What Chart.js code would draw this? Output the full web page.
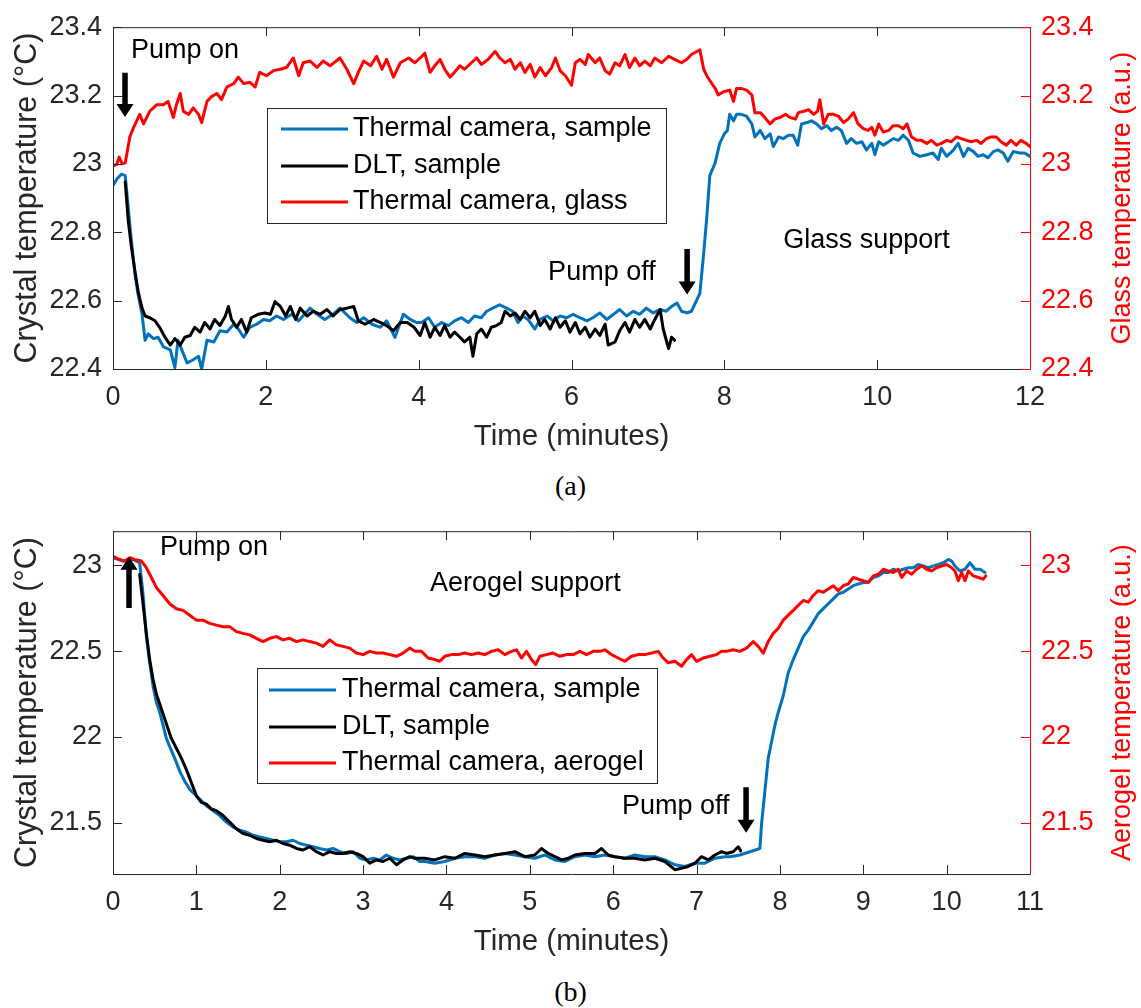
<!DOCTYPE html>
<html>
<head>
<meta charset="utf-8">
<title>Crystal temperature during pumping</title>
<script src="https://cdn.jsdelivr.net/npm/chart.js@4.4.0/dist/chart.umd.min.js"></script>
<style>
  body { margin: 0; background: #fff; }
  #fig { position: relative; width: 1141px; height: 1008px; }
  #fig canvas { position: absolute; left: 0; }
  .cap { position: absolute; left: 0; width: 1141px; text-align: center;
         font-family: "Liberation Serif", "Times New Roman", serif; font-size: 28px; line-height: 32px; color: #000; }
</style>
</head>
<body>
<div id="fig">
  <canvas id="chartA" width="1141" height="460" style="top:0px"></canvas>
  <div class="cap" style="top:470px">(a)</div>
  <canvas id="chartB" width="1141" height="461" style="top:504px"></canvas>
  <div class="cap" style="top:976px">(b)</div>
</div>
<script>
var BLUE = '#0072BD';
var RED = '#FF0000';
var BLACK = '#000000';
var AXIS = '#262626';
var FONT = '"Liberation Sans", Arial, Helvetica, sans-serif';

// ---- panel (a): glass support ----
var timeTicksA = [0, 2, 4, 6, 8, 10, 12];
var tempTicksA = [22.4, 22.6, 22.8, 23, 23.2, 23.4];

// [minutes, degC]
var cameraSampleA = [
  [0,22.937],[0.05,22.956],[0.11,22.970],[0.16,22.966],[0.20,22.871],[0.24,22.777],[0.29,22.673],[0.33,22.616],
  [0.38,22.560],[0.42,22.484],[0.46,22.503],[0.53,22.489],[0.59,22.493],[0.66,22.465],[0.75,22.456],[0.81,22.404],
  [0.85,22.484],[0.90,22.456],[0.97,22.418],[1.05,22.427],[1.12,22.437],[1.16,22.400],[1.23,22.484],[1.32,22.479],
  [1.40,22.512],[1.49,22.508],[1.58,22.531],[1.64,22.517],[1.71,22.493],[1.79,22.522],[1.88,22.531],[1.97,22.545],
  [2.05,22.541],[2.14,22.555],[2.23,22.545],[2.34,22.560],[2.43,22.541],[2.52,22.564],[2.58,22.578],[2.67,22.560],
  [2.77,22.545],[2.88,22.560],[2.97,22.578],[3.10,22.550],[3.19,22.536],[3.28,22.550],[3.39,22.531],[3.50,22.522],
  [3.58,22.541],[3.69,22.493],[3.80,22.560],[3.89,22.545],[3.97,22.536],[4.04,22.536],[4.13,22.550],[4.21,22.522],
  [4.30,22.536],[4.39,22.527],[4.47,22.541],[4.56,22.550],[4.65,22.536],[4.73,22.555],[4.82,22.550],[4.89,22.569],
  [4.97,22.578],[5.06,22.588],[5.15,22.578],[5.23,22.569],[5.30,22.536],[5.36,22.555],[5.43,22.545],[5.52,22.517],
  [5.59,22.545],[5.68,22.555],[5.76,22.541],[5.85,22.555],[5.94,22.550],[6.02,22.560],[6.11,22.550],[6.20,22.541],
  [6.28,22.550],[6.37,22.564],[6.46,22.545],[6.55,22.560],[6.63,22.574],[6.72,22.555],[6.81,22.569],[6.89,22.560],
  [6.98,22.578],[7.07,22.564],[7.16,22.574],[7.24,22.569],[7.31,22.583],[7.38,22.593],[7.44,22.569],[7.51,22.564],
  [7.57,22.569],[7.64,22.602],[7.68,22.621],[7.73,22.739],[7.77,22.843],[7.81,22.966],[7.88,23.003],[7.94,23.060],
  [8.00,23.088],[8.04,23.098],[8.07,23.145],[8.12,23.126],[8.16,23.145],[8.22,23.145],[8.29,23.140],[8.36,23.117],
  [8.40,23.079],[8.47,23.098],[8.53,23.074],[8.60,23.088],[8.64,23.051],[8.71,23.079],[8.77,23.074],[8.84,23.084],
  [8.90,23.084],[8.96,23.055],[9.01,23.117],[9.08,23.121],[9.14,23.126],[9.21,23.117],[9.27,23.103],[9.34,23.112],
  [9.40,23.098],[9.47,23.107],[9.53,23.098],[9.60,23.060],[9.66,23.074],[9.73,23.060],[9.80,23.065],[9.86,23.041],
  [9.93,23.060],[9.97,23.027],[10.02,23.065],[10.08,23.055],[10.15,23.065],[10.21,23.074],[10.28,23.069],[10.34,23.084],
  [10.41,23.069],[10.47,23.032],[10.56,23.022],[10.65,23.027],[10.73,23.032],[10.80,23.013],[10.84,23.046],[10.91,23.022],
  [11.00,23.041],[11.06,23.060],[11.13,23.022],[11.19,23.046],[11.26,23.036],[11.32,23.022],[11.39,23.027],[11.45,23.018],
  [11.52,23.036],[11.58,23.041],[11.65,23.032],[11.71,23.008],[11.78,23.036],[11.87,23.032],[11.93,23.032],[12.00,23.022]
];

var dltSampleA = [
  [0.16,22.947],[0.20,22.833],[0.24,22.758],[0.29,22.682],[0.33,22.626],[0.38,22.578],[0.42,22.555],[0.48,22.550],
  [0.55,22.541],[0.61,22.522],[0.68,22.493],[0.75,22.470],[0.81,22.489],[0.88,22.470],[0.94,22.493],[1.01,22.498],
  [1.07,22.522],[1.14,22.508],[1.20,22.536],[1.27,22.517],[1.33,22.545],[1.40,22.527],[1.47,22.555],[1.51,22.583],
  [1.55,22.545],[1.62,22.522],[1.68,22.545],[1.75,22.508],[1.81,22.550],[1.90,22.560],[1.99,22.564],[2.06,22.560],
  [2.12,22.597],[2.19,22.583],[2.26,22.555],[2.32,22.583],[2.39,22.545],[2.45,22.578],[2.54,22.555],[2.62,22.569],
  [2.71,22.560],[2.80,22.574],[2.88,22.555],[2.97,22.574],[3.06,22.578],[3.15,22.583],[3.21,22.541],[3.30,22.531],
  [3.41,22.545],[3.50,22.536],[3.58,22.527],[3.67,22.512],[3.76,22.536],[3.85,22.536],[3.94,22.522],[4.02,22.498],
  [4.08,22.536],[4.15,22.493],[4.21,22.522],[4.28,22.498],[4.34,22.527],[4.41,22.493],[4.47,22.508],[4.54,22.493],
  [4.60,22.479],[4.67,22.493],[4.71,22.437],[4.76,22.503],[4.82,22.517],[4.89,22.493],[4.95,22.522],[5.02,22.527],
  [5.08,22.536],[5.13,22.569],[5.20,22.555],[5.26,22.564],[5.33,22.545],[5.39,22.569],[5.46,22.550],[5.52,22.569],
  [5.59,22.527],[5.65,22.545],[5.72,22.517],[5.79,22.550],[5.85,22.522],[5.92,22.541],[5.98,22.508],[6.05,22.536],
  [6.11,22.503],[6.18,22.522],[6.24,22.493],[6.31,22.517],[6.37,22.498],[6.44,22.531],[6.48,22.470],[6.57,22.479],
  [6.63,22.512],[6.70,22.536],[6.76,22.508],[6.83,22.545],[6.89,22.522],[6.96,22.545],[7.03,22.517],[7.09,22.545],
  [7.16,22.574],[7.20,22.517],[7.27,22.460],[7.31,22.493],[7.35,22.484]
];

var cameraGlassA = [
  [0,22.994],[0.05,22.999],[0.08,23.020],[0.12,23.000],[0.16,23.003],[0.22,23.079],[0.27,23.107],[0.35,23.145],
  [0.40,23.117],[0.48,23.154],[0.57,23.173],[0.66,23.173],[0.72,23.183],[0.79,23.136],[0.83,23.173],[0.88,23.206],
  [0.92,23.154],[0.99,23.145],[1.05,23.164],[1.12,23.145],[1.16,23.121],[1.23,23.183],[1.29,23.197],[1.36,23.206],
  [1.42,23.188],[1.49,23.225],[1.58,23.235],[1.64,23.254],[1.71,23.235],[1.79,23.239],[1.86,23.225],[1.92,23.268],
  [2.01,23.258],[2.10,23.273],[2.19,23.277],[2.27,23.282],[2.36,23.310],[2.43,23.258],[2.49,23.296],[2.58,23.301],
  [2.67,23.282],[2.75,23.301],[2.84,23.287],[2.97,23.310],[3.06,23.277],[3.15,23.235],[3.21,23.268],[3.28,23.301],
  [3.37,23.287],[3.45,23.315],[3.52,23.277],[3.58,23.306],[3.67,23.254],[3.76,23.296],[3.87,23.310],[3.95,23.296],
  [4.02,23.310],[4.08,23.324],[4.15,23.268],[4.21,23.287],[4.28,23.306],[4.34,23.277],[4.41,23.254],[4.47,23.268],
  [4.54,23.287],[4.60,23.277],[4.69,23.296],[4.76,23.310],[4.82,23.291],[4.91,23.306],[5.00,23.329],[5.06,23.310],
  [5.13,23.296],[5.20,23.306],[5.26,23.277],[5.33,23.296],[5.39,23.268],[5.46,23.291],[5.52,23.254],[5.59,23.282],
  [5.66,23.258],[5.74,23.282],[5.79,23.310],[5.85,23.273],[5.92,23.258],[6.00,23.230],[6.05,23.296],[6.11,23.306],
  [6.18,23.291],[6.22,23.320],[6.31,23.296],[6.37,23.310],[6.44,23.273],[6.50,23.263],[6.57,23.296],[6.63,23.287],
  [6.70,23.320],[6.76,23.282],[6.83,23.310],[6.89,23.287],[6.96,23.301],[7.03,23.287],[7.09,23.310],[7.18,23.296],
  [7.27,23.315],[7.35,23.306],[7.44,23.296],[7.51,23.306],[7.57,23.320],[7.64,23.329],[7.68,23.334],[7.73,23.277],
  [7.77,23.258],[7.81,23.244],[7.88,23.221],[7.92,23.202],[7.99,23.211],[8.07,23.216],[8.12,23.183],[8.16,23.221],
  [8.22,23.221],[8.29,23.216],[8.36,23.202],[8.40,23.150],[8.47,23.150],[8.53,23.136],[8.60,23.117],[8.66,23.131],
  [8.73,23.136],[8.80,23.145],[8.86,23.136],[8.93,23.131],[8.97,23.150],[9.04,23.154],[9.10,23.159],[9.17,23.145],
  [9.22,23.154],[9.25,23.188],[9.30,23.117],[9.36,23.145],[9.43,23.145],[9.49,23.140],[9.56,23.121],[9.62,23.131],
  [9.69,23.150],[9.75,23.117],[9.82,23.103],[9.88,23.098],[9.93,23.107],[9.97,23.084],[10.02,23.117],[10.08,23.093],
  [10.15,23.098],[10.21,23.112],[10.28,23.112],[10.34,23.103],[10.39,23.117],[10.45,23.079],[10.52,23.069],[10.58,23.069],
  [10.65,23.060],[10.71,23.069],[10.78,23.055],[10.84,23.060],[10.91,23.069],[10.97,23.065],[11.04,23.079],[11.10,23.074],
  [11.17,23.069],[11.23,23.065],[11.30,23.069],[11.36,23.060],[11.43,23.074],[11.49,23.079],[11.56,23.079],[11.62,23.065],
  [11.69,23.055],[11.75,23.069],[11.82,23.055],[11.88,23.069],[11.95,23.060],[12.00,23.051]
];

// ---- panel (b): aerogel support ----
var timeTicksB = [0, 1, 2, 3, 4, 5, 6, 7, 8, 9, 10, 11];
var tempTicksB = [21.5, 22, 22.5, 23];

var cameraSampleB = [
  [0,23.045],[0.12,23.026],[0.24,23.035],[0.32,23.016],[0.36,22.834],[0.40,22.585],[0.44,22.432],[0.48,22.298],
  [0.52,22.202],[0.56,22.144],[0.60,22.068],[0.64,21.991],[0.68,21.943],[0.74,21.876],[0.80,21.800],[0.86,21.742],
  [0.92,21.694],[0.98,21.665],[1.04,21.637],[1.12,21.598],[1.20,21.570],[1.28,21.541],[1.36,21.503],[1.44,21.474],
  [1.52,21.455],[1.60,21.445],[1.68,21.426],[1.76,21.416],[1.84,21.407],[1.92,21.397],[2.00,21.388],[2.08,21.388],
  [2.16,21.397],[2.24,21.378],[2.32,21.368],[2.40,21.359],[2.48,21.349],[2.56,21.340],[2.64,21.349],[2.72,21.330],
  [2.80,21.320],[2.88,21.330],[2.96,21.292],[3.04,21.282],[3.12,21.292],[3.20,21.282],[3.28,21.311],[3.36,21.292],
  [3.44,21.282],[3.52,21.292],[3.60,21.301],[3.68,21.273],[3.74,21.273],[3.86,21.263],[3.98,21.273],[4.10,21.292],
  [4.22,21.301],[4.34,21.301],[4.46,21.292],[4.58,21.311],[4.70,21.320],[4.82,21.311],[4.94,21.301],[5.06,21.292],
  [5.18,21.311],[5.30,21.282],[5.42,21.273],[5.54,21.301],[5.66,21.311],[5.78,21.301],[5.90,21.311],[6.02,21.301],
  [6.14,21.292],[6.26,21.311],[6.38,21.301],[6.50,21.301],[6.62,21.282],[6.74,21.254],[6.86,21.244],[6.98,21.263],
  [7.10,21.263],[7.22,21.292],[7.34,21.301],[7.40,21.301],[7.52,21.311],[7.64,21.330],[7.76,21.349],[7.78,21.493],
  [7.82,21.685],[7.86,21.876],[7.90,21.972],[7.94,22.068],[7.98,22.144],[8.04,22.240],[8.10,22.374],[8.16,22.451],
  [8.22,22.518],[8.28,22.585],[8.34,22.623],[8.40,22.671],[8.46,22.719],[8.52,22.748],[8.58,22.777],[8.64,22.805],
  [8.70,22.834],[8.76,22.844],[8.82,22.863],[8.88,22.882],[8.94,22.892],[9.00,22.901],[9.06,22.901],[9.12,22.930],
  [9.18,22.939],[9.24,22.959],[9.30,22.959],[9.36,22.978],[9.42,22.968],[9.48,22.978],[9.54,22.987],[9.60,22.987],
  [9.66,23.006],[9.72,22.997],[9.78,22.987],[9.84,22.997],[9.90,23.006],[9.96,23.016],[10.02,23.035],[10.06,23.026],
  [10.10,22.997],[10.16,22.968],[10.22,22.978],[10.28,23.016],[10.34,22.978],[10.40,22.978],[10.46,22.959]
];

var dltSampleB = [
  [0.32,22.949],[0.36,22.777],[0.40,22.604],[0.44,22.451],[0.48,22.336],[0.52,22.250],[0.58,22.164],[0.64,22.077],
  [0.70,21.991],[0.76,21.934],[0.82,21.876],[0.88,21.809],[0.94,21.733],[1.00,21.656],[1.06,21.618],[1.12,21.608],
  [1.18,21.579],[1.24,21.570],[1.32,21.541],[1.40,21.503],[1.48,21.464],[1.56,21.436],[1.64,21.426],[1.72,21.407],
  [1.80,21.397],[1.88,21.388],[1.96,21.397],[2.04,21.378],[2.12,21.368],[2.20,21.349],[2.28,21.340],[2.36,21.359],
  [2.44,21.330],[2.52,21.311],[2.60,21.330],[2.68,21.320],[2.76,21.320],[2.84,21.330],[2.92,21.320],[3.00,21.301],
  [3.08,21.263],[3.16,21.282],[3.24,21.273],[3.32,21.292],[3.40,21.254],[3.48,21.282],[3.56,21.301],[3.62,21.292],
  [3.74,21.292],[3.86,21.282],[3.98,21.301],[4.10,21.292],[4.22,21.320],[4.34,21.311],[4.46,21.301],[4.58,21.311],
  [4.70,21.320],[4.82,21.330],[4.94,21.301],[5.06,21.311],[5.14,21.349],[5.22,21.320],[5.30,21.301],[5.38,21.282],
  [5.46,21.292],[5.54,21.311],[5.66,21.320],[5.78,21.320],[5.86,21.349],[5.94,21.311],[6.02,21.301],[6.14,21.292],
  [6.26,21.292],[6.38,21.282],[6.50,21.292],[6.62,21.273],[6.74,21.225],[6.82,21.234],[6.90,21.244],[6.98,21.263],
  [7.06,21.301],[7.14,21.282],[7.22,21.311],[7.30,21.330],[7.36,21.320],[7.44,21.330],[7.50,21.359],[7.53,21.335]
];

var cameraAerogelB = [
  [0,23.054],[0.08,23.035],[0.14,23.026],[0.20,23.045],[0.26,23.035],[0.34,23.026],[0.40,22.987],[0.46,22.930],
  [0.52,22.872],[0.60,22.825],[0.68,22.777],[0.76,22.748],[0.84,22.738],[0.92,22.710],[1.00,22.681],[1.08,22.681],
  [1.16,22.662],[1.24,22.652],[1.32,22.643],[1.40,22.643],[1.48,22.614],[1.56,22.604],[1.64,22.595],[1.72,22.575],
  [1.80,22.556],[1.88,22.575],[1.96,22.585],[2.04,22.566],[2.12,22.575],[2.20,22.556],[2.28,22.566],[2.36,22.556],
  [2.44,22.547],[2.52,22.528],[2.60,22.566],[2.68,22.537],[2.76,22.528],[2.84,22.518],[2.92,22.489],[3.00,22.480],
  [3.08,22.499],[3.16,22.489],[3.24,22.489],[3.32,22.480],[3.40,22.470],[3.48,22.489],[3.56,22.518],[3.62,22.500],
  [3.70,22.499],[3.78,22.460],[3.86,22.451],[3.92,22.441],[3.98,22.470],[4.06,22.480],[4.14,22.480],[4.22,22.489],
  [4.30,22.480],[4.38,22.489],[4.46,22.480],[4.54,22.499],[4.62,22.508],[4.70,22.480],[4.78,22.499],[4.84,22.508],
  [4.90,22.460],[4.96,22.499],[5.02,22.451],[5.07,22.422],[5.12,22.470],[5.20,22.480],[5.28,22.489],[5.36,22.470],
  [5.44,22.480],[5.52,22.480],[5.60,22.499],[5.68,22.480],[5.76,22.499],[5.84,22.499],[5.90,22.508],[5.98,22.480],
  [6.06,22.460],[6.14,22.441],[6.22,22.470],[6.30,22.480],[6.38,22.480],[6.46,22.489],[6.54,22.499],[6.60,22.460],
  [6.66,22.432],[6.74,22.441],[6.82,22.412],[6.88,22.451],[6.94,22.480],[7.00,22.441],[7.08,22.460],[7.16,22.470],
  [7.24,22.480],[7.30,22.499],[7.36,22.499],[7.44,22.508],[7.52,22.499],[7.60,22.518],[7.68,22.556],[7.74,22.528],
  [7.80,22.489],[7.86,22.556],[7.92,22.604],[7.98,22.633],[8.04,22.681],[8.10,22.710],[8.16,22.738],[8.22,22.767],
  [8.28,22.796],[8.34,22.786],[8.40,22.825],[8.46,22.853],[8.52,22.844],[8.58,22.863],[8.64,22.882],[8.70,22.853],
  [8.76,22.882],[8.82,22.892],[8.88,22.930],[8.94,22.920],[9.00,22.911],[9.06,22.901],[9.12,22.939],[9.18,22.949],
  [9.24,22.978],[9.30,22.968],[9.36,22.959],[9.42,22.978],[9.46,22.930],[9.52,22.968],[9.58,22.949],[9.64,22.978],
  [9.70,22.997],[9.76,22.978],[9.82,22.968],[9.88,22.987],[9.94,22.997],[10.00,23.006],[10.06,22.987],[10.10,22.968],
  [10.14,22.911],[10.18,22.959],[10.22,22.911],[10.26,22.968],[10.32,22.939],[10.38,22.930],[10.44,22.920],[10.47,22.939]
];

var TICK = 9;

function toPoints(pairs) {
  return pairs.map(function (p) { return { x: p[0], y: p[1] }; });
}

function fixedTicks(values) {
  return function (scale) {
    scale.ticks = values.map(function (v) { return { value: v }; });
  };
}

function drawArrow(ctx, x, y0, y1) {
  // shaft from y0, head tip at y1
  var dir = y1 > y0 ? 1 : -1;
  var head = 13, half = 8.5, shaft = 2.75;
  ctx.beginPath();
  ctx.moveTo(x - shaft, y0);
  ctx.lineTo(x + shaft, y0);
  ctx.lineTo(x + shaft, y1 - dir * head);
  ctx.lineTo(x + half, y1 - dir * head);
  ctx.lineTo(x, y1);
  ctx.lineTo(x - half, y1 - dir * head);
  ctx.lineTo(x - shaft, y1 - dir * head);
  ctx.closePath();
  ctx.fill();
}

// axes box, inward ticks, in-plot legend and notes
var decorPlugin = {
  id: 'decor',
  afterDatasetsDraw: function (chart) {
    var ctx = chart.ctx, a = chart.chartArea;
    var xs = chart.scales.x, yl = chart.scales.y, yr = chart.scales.y1;
    ctx.save();
    ctx.lineWidth = 1;
    ctx.strokeStyle = AXIS;
    ctx.beginPath();
    xs.ticks.forEach(function (t) {
      var px = Math.round(xs.getPixelForValue(t.value)) + 0.5;
      ctx.moveTo(px, a.bottom); ctx.lineTo(px, a.bottom - TICK);
      ctx.moveTo(px, a.top); ctx.lineTo(px, a.top + TICK);
    });
    yl.ticks.forEach(function (t) {
      var py = Math.round(yl.getPixelForValue(t.value)) + 0.5;
      ctx.moveTo(a.left, py); ctx.lineTo(a.left + TICK, py);
    });
    ctx.moveTo(a.left + 0.5, a.top); ctx.lineTo(a.left + 0.5, a.bottom + 0.5);
    ctx.moveTo(a.left, a.top + 0.5); ctx.lineTo(a.right, a.top + 0.5);
    ctx.moveTo(a.left, a.bottom + 0.5); ctx.lineTo(a.right, a.bottom + 0.5);
    ctx.stroke();

    ctx.strokeStyle = RED;
    ctx.beginPath();
    yr.ticks.forEach(function (t) {
      var py = Math.round(yr.getPixelForValue(t.value)) + 0.5;
      ctx.moveTo(a.right, py); ctx.lineTo(a.right - TICK, py);
    });
    ctx.moveTo(a.right + 0.5, a.top); ctx.lineTo(a.right + 0.5, a.bottom + 1);
    ctx.stroke();
    ctx.restore();
  },
  afterDraw: function (chart, args, opts) {
    var ctx = chart.ctx, a = chart.chartArea;
    var xs = chart.scales.x, yl = chart.scales.y;
    ctx.save();

    // right axis title, reading bottom to top
    ctx.fillStyle = RED;
    ctx.font = '27px ' + FONT;
    ctx.textAlign = 'center';
    ctx.textBaseline = 'middle';
    ctx.translate(opts.rightTitleX, (a.top + a.bottom) / 2);
    ctx.rotate(-Math.PI / 2);
    ctx.fillText(opts.rightTitle, 0, 0);
    ctx.setTransform(1, 0, 0, 1, 0, 0);

    // legend box
    var lg = opts.legend;
    ctx.fillStyle = '#ffffff';
    ctx.fillRect(lg.x, lg.y, lg.w, lg.h);
    ctx.strokeStyle = AXIS;
    ctx.lineWidth = 1;
    ctx.strokeRect(lg.x + 0.5, lg.y + 0.5, lg.w, lg.h);
    ctx.font = '27px ' + FONT;
    ctx.textAlign = 'left';
    chart.data.datasets.forEach(function (ds, i) {
      var y = lg.y + lg.rows[i];
      ctx.strokeStyle = ds.borderColor;
      ctx.lineWidth = ds.borderWidth;
      ctx.beginPath();
      ctx.moveTo(lg.x + lg.lineFrom, y);
      ctx.lineTo(lg.x + lg.lineTo, y);
      ctx.stroke();
      ctx.fillStyle = BLACK;
      ctx.fillText(ds.label, lg.x + lg.textAt, y);
    });

    // notes and arrows placed in data coordinates
    ctx.fillStyle = BLACK;
    opts.notes.forEach(function (n) {
      ctx.fillText(n.text, xs.getPixelForValue(n.t), yl.getPixelForValue(n.v));
    });
    opts.arrows.forEach(function (ar) {
      drawArrow(ctx, xs.getPixelForValue(ar.t), yl.getPixelForValue(ar.from), yl.getPixelForValue(ar.to));
    });
    ctx.restore();
  }
};

function makePanel(id, p) {
  var tickFont = { family: FONT, size: 27 };
  var label = function (v) { return String(v); };
  return new Chart(document.getElementById(id), {
    type: 'line',
    data: {
      datasets: [
        { label: 'Thermal camera, sample', data: toPoints(p.sample), yAxisID: 'y',
          borderColor: BLUE, borderWidth: 3, order: 2 },
        { label: 'DLT, sample', data: toPoints(p.dlt), yAxisID: 'y',
          borderColor: BLACK, borderWidth: 3, order: 1 },
        { label: p.supportLabel, data: toPoints(p.support), yAxisID: 'y1',
          borderColor: RED, borderWidth: 3, order: 0 }
      ]
    },
    options: {
      responsive: false,
      animation: false,
      devicePixelRatio: 1,
      parsing: false,
      normalized: true,
      elements: { point: { radius: 0 }, line: { tension: 0, borderCapStyle: 'round', borderJoinStyle: 'round' } },
      layout: { padding: { top: p.top, left: 0, right: 0, bottom: 0 }, autoPadding: false },
      plugins: {
        legend: { display: false },
        tooltip: { enabled: false },
        decor: {
          rightTitle: p.rightTitle,
          rightTitleX: 1123,
          legend: p.legend,
          notes: p.notes,
          arrows: p.arrows
        }
      },
      scales: {
        x: {
          type: 'linear', min: 0, max: p.xMax,
          afterBuildTicks: fixedTicks(p.timeTicks),
          afterFit: function (s) { s.height = 91; },
          grid: { display: false, drawTicks: false },
          border: { display: false },
          ticks: { font: tickFont, color: AXIS, padding: 12, autoSkip: false, maxRotation: 0, callback: label },
          title: { display: true, text: 'Time (minutes)', font: { family: FONT, size: 29.5 }, color: AXIS,
                   padding: { top: 0, bottom: 5 } }
        },
        y: {
          type: 'linear', position: 'left', min: p.yMin, max: p.yMax,
          afterBuildTicks: fixedTicks(p.tempTicks),
          afterFit: function (s) { s.width = 113; },
          grid: { display: false, drawTicks: false },
          border: { display: false },
          ticks: { font: tickFont, color: AXIS, padding: 11, callback: label },
          title: { display: true, text: 'Crystal temperature (°C)', font: { family: FONT, size: 30.5 }, color: AXIS,
                   padding: { top: 9, bottom: 0 } }
        },
        y1: {
          type: 'linear', position: 'right', min: p.yMin, max: p.yMax,
          afterBuildTicks: fixedTicks(p.tempTicks),
          afterFit: function (s) { s.width = 111; },
          grid: { display: false, drawTicks: false },
          border: { display: false },
          ticks: { font: tickFont, color: RED, padding: 11, callback: label },
          title: { display: false }
        }
      }
    },
    plugins: [decorPlugin]
  });
}

makePanel('chartA', {
  sample: cameraSampleA, dlt: dltSampleA, support: cameraGlassA,
  supportLabel: 'Thermal camera, glass',
  rightTitle: 'Glass temperature (a.u.)',
  timeTicks: timeTicksA, tempTicks: tempTicksA,
  xMax: 12, yMin: 22.4, yMax: 23.4, top: 16,
  legend: { x: 267, y: 108, w: 399, h: 115, rows: [21, 58, 94], lineFrom: 14, lineTo: 81, textAt: 86 },
  notes: [
    { text: 'Pump on', t: 0.236, v: 23.332 },
    { text: 'Pump off', t: 5.694, v: 22.683 },
    { text: 'Glass support', t: 8.77, v: 22.777 }
  ],
  arrows: [
    { t: 0.157, from: 23.267, to: 23.137 },
    { t: 7.513, from: 22.751, to: 22.618 }
  ]
});

makePanel('chartB', {
  sample: cameraSampleB, dlt: dltSampleB, support: cameraAerogelB,
  supportLabel: 'Thermal camera, aerogel',
  rightTitle: 'Aerogel temperature (a.u.)',
  timeTicks: timeTicksB, tempTicks: tempTicksB,
  xMax: 11, yMin: 21.2, yMax: 23.2, top: 23,
  legend: { x: 257, y: 164, w: 400, h: 115, rows: [22, 59, 95], lineFrom: 12, lineTo: 79, textAt: 85 },
  notes: [
    { text: 'Pump on', t: 0.564, v: 23.102 },
    { text: 'Aerogel support', t: 3.803, v: 22.895 },
    { text: 'Pump off', t: 6.106, v: 21.591 }
  ],
  arrows: [
    { t: 0.192, from: 22.752, to: 23.051 },
    { t: 7.594, from: 21.706, to: 21.441 }
  ]
});
</script>
</body>
</html>
